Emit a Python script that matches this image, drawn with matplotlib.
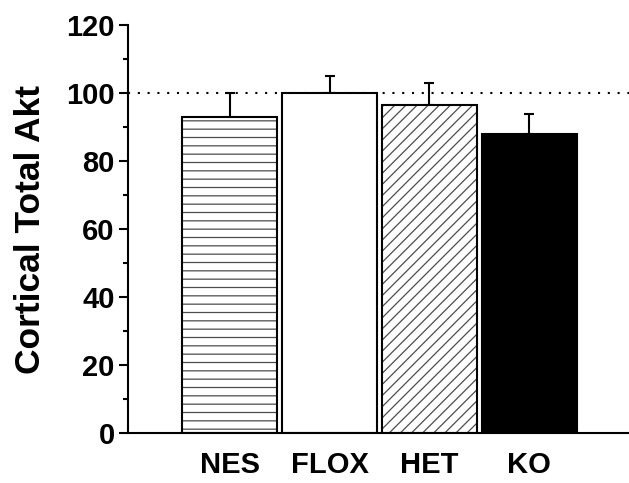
import numpy as np
import matplotlib.pyplot as plt
from matplotlib.ticker import MultipleLocator

groups = ['NES', 'FLOX', 'HET', 'KO']
means = [93, 100, 96.5, 87.8]
errs = [7, 5, 6.5, 6]

plt.rcParams['font.family'] = ['Liberation Sans', 'DejaVu Sans']
plt.rcParams['font.weight'] = 'bold'
plt.rcParams['hatch.linewidth'] = 0.9

fig = plt.figure(figsize=(6.29, 4.83), dpi=100)
ax = fig.add_axes([128/629, 50/483, 501/629, 408/483])

x = np.arange(len(groups))
w = 0.95

# reference line at 100
ax.plot([-1.02, 4.0], [100, 100], ls=(0, (1, 3.7)), color='black', lw=1.5, zorder=1)

# hatched fills (hatch colour follows edgecolor)
ax.bar(x[0], means[0], w, color='white', edgecolor='0.3', hatch='--', lw=0, zorder=2)
ax.bar(x[1], means[1], w, color='white', lw=0, zorder=2)
ax.bar(x[2], means[2], w, color='white', edgecolor='0.3', hatch='///', lw=0, zorder=2)
ax.bar(x[3], means[3], w, color='black', lw=0, zorder=2)
# outlines
ax.bar(x, means, w, fill=False, edgecolor='black', lw=1.5, zorder=3)

ax.errorbar(x, means, yerr=[[0] * 4, errs], fmt='none', ecolor='black',
            elinewidth=1.5, capsize=3.8, capthick=1.5, zorder=1.5)

ax.set_xlim(-1.02, 4.0)
ax.set_ylim(0, 120)
ax.set_xticks(x)
ax.set_xticklabels(groups, fontsize=21, fontweight='bold')
ax.yaxis.set_major_locator(MultipleLocator(20))
ax.yaxis.set_minor_locator(MultipleLocator(10))
ax.tick_params(axis='x', length=0, pad=13)
ax.tick_params(axis='y', which='major', length=6.5, width=1.5, labelsize=21, pad=3)
ax.tick_params(axis='y', which='minor', length=3.5, width=1.5)
for lab in ax.get_yticklabels():
    lab.set_fontweight('bold')

ax.set_ylabel('Cortical Total Akt', fontsize=25.5, fontweight='bold', labelpad=14)

ax.spines['top'].set_visible(False)
ax.spines['right'].set_visible(False)
ax.spines['left'].set_linewidth(1.5)
ax.spines['bottom'].set_linewidth(1.5)

plt.savefig('out.png', dpi=100)
